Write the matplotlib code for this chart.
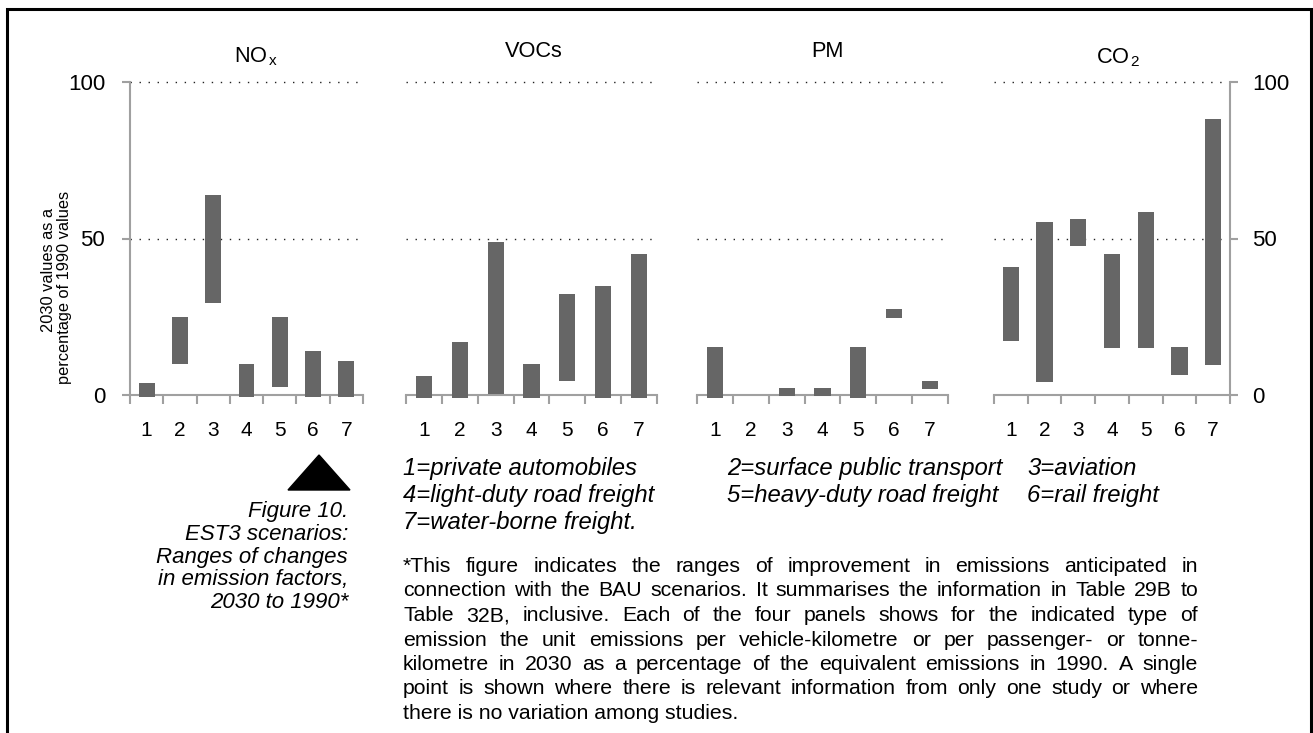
import matplotlib
matplotlib.use("Agg")
import numpy as np
import matplotlib.pyplot as plt
from matplotlib.patches import Polygon, Rectangle

plt.rcParams['font.family'] = ['Liberation Sans', 'DejaVu Sans']
plt.rcParams['mathtext.fontset'] = 'custom'
plt.rcParams['mathtext.rm'] = 'Liberation Sans'
plt.rcParams['mathtext.it'] = 'Liberation Sans:italic'

W, H = 1313, 733

categories = [1, 2, 3, 4, 5, 6, 7]

# ranges: low / high end, 2030 as % of 1990 (nan = no data)
nox_low = [-0.7, 10.0, 29.4, -0.7, 2.4, -0.7, -0.7]
nox_high = [3.8, 24.8, 64.0, 9.9, 24.8, 14.0, 10.8]
voc_low = [-0.8, -0.8, 0.2, -0.8, 4.5, -0.8, -0.8]
voc_high = [6.2, 16.8, 48.9, 10.0, 32.2, 34.8, 45.0]
pm_low = [-0.8, np.nan, -0.3, -0.3, -0.8, 24.7, 1.8]
pm_high = [15.2, np.nan, 2.3, 2.3, 15.2, 27.4, 4.5]
co2_low = [17.4, 4.3, 47.6, 15.1, 15.1, 6.5, 9.7]
co2_high = [40.9, 55.3, 56.3, 45.1, 58.5, 15.3, 88.3]

panel_titles = [r'$\mathrm{NO}_{\,\mathrm{x}}$', 'VOCs', 'PM', r'$\mathrm{CO}_{\,\mathrm{2}}$']
ylabel_lines = ['2030 values as a', 'percentage of 1990 values']

legend_rows = [
    ['1=private automobiles', '2=surface public transport', '3=aviation'],
    ['4=light-duty road freight', '5=heavy-duty road freight', '6=rail freight'],
    ['7=water-borne freight.', '', ''],
]
caption_lines = ['Figure 10.', 'EST3 scenarios:', 'Ranges of changes',
                 'in emission factors,', '2030 to 1990*']
note_lines = [
    '*This figure indicates the ranges of improvement in emissions anticipated in',
    'connection with the BAU scenarios. It summarises the information in Table 29B to',
    'Table 32B, inclusive. Each of the four panels shows for the indicated type of',
    'emission the unit emissions per vehicle-kilometre or per passenger- or tonne-',
    'kilometre in 2030 as a percentage of the equivalent emissions in 1990. A single',
    'point is shown where there is relevant information from only one study or where',
    'there is no variation among studies.',
]


def fx(px):
    return px / W


def fy(py):
    return 1 - py / H


grey = '#a0a0a0'
barc = '#666666'

fig = plt.figure(figsize=(W / 100, H / 100), dpi=100)

# outer frame (bottom edge runs off the page)
fig.add_artist(Rectangle((fx(6.5), fy(745)), fx(1311) - fx(6.5), fy(9) - fy(745),
                         transform=fig.transFigure, fill=False, ec='black', lw=2.2,
                         clip_on=False))

top_px, zero_px = 82, 395
ppu = (zero_px - top_px) / 100.0
ymin = -2
bot_px = zero_px - ymin * ppu

panels = [
    (130, 363, nox_low, nox_high, 'left', 0.48),
    (406, 657, voc_low, voc_high, None, 0.45),
    (697, 948, pm_low, pm_high, None, 0.45),
    (994, 1230, co2_low, co2_high, 'right', 0.48),
]

axes = []
for x0, x1, lo, hi, side, bw in panels:
    ax = fig.add_axes([fx(x0), fy(bot_px), (x1 - x0) / W, (bot_px - top_px) / H])
    ax.patch.set_visible(False)
    ax.set_xlim(0.5, 7.5)
    ax.set_ylim(ymin, 100)
    lo = np.array(lo, dtype=float)
    hi = np.array(hi, dtype=float)
    ok = ~np.isnan(lo)
    ax.bar(np.array(categories)[ok], (hi - lo)[ok], bottom=lo[ok], width=bw,
           color=barc, lw=0, zorder=3)
    for s in ['top', 'left', 'right']:
        ax.spines[s].set_visible(False)
    ax.spines['bottom'].set_position(('data', 0))
    ax.spines['bottom'].set_color(grey)
    ax.spines['bottom'].set_linewidth(1.5)
    ax.set_xticks(np.arange(0.5, 8, 1))
    ax.set_xticklabels([])
    ax.set_xticks(categories, minor=True)
    ax.set_xticklabels([str(c) for c in categories], minor=True, fontsize=15)
    ax.tick_params(axis='x', which='major', direction='out', length=6.5, width=1.5, color=grey)
    ax.tick_params(axis='x', which='minor', length=0, pad=19)
    for yv in (50, 100):
        ax.axhline(yv, color='#222222', lw=1.0, ls=(0, (1, 5.5)), clip_on=False, zorder=1)
    if side is None:
        ax.set_yticks([])
    else:
        ax.spines[side].set_visible(True)
        ax.spines[side].set_color(grey)
        ax.spines[side].set_linewidth(1.5)
        ax.spines[side].set_bounds(0, 100)
        ax.set_yticks([0, 50, 100])
        if side == 'right':
            ax.yaxis.tick_right()
            ax.tick_params(axis='y', length=5.8, width=1.5, color=grey, pad=10, labelsize=16)
        else:
            ax.tick_params(axis='y', length=5.8, width=1.5, color=grey, pad=12, labelsize=16)
    axes.append(ax)

# panel titles
title_pos = [(256, 62), (534, 57), (827, 57), (1118, 63)]
for t, (px, py) in zip(panel_titles, title_pos):
    fig.text(fx(px), fy(py), t, fontsize=15.7, ha='center', va='baseline')

# y label (two rotated lines)
fig.text(fx(53), fy(270), ylabel_lines[0], fontsize=11.8, rotation=90,
         rotation_mode='anchor', ha='center', va='baseline')
fig.text(fx(69), fy(287), ylabel_lines[1], fontsize=11.8, rotation=90,
         rotation_mode='anchor', ha='center', va='baseline')

# triangle marker
fig.add_artist(Polygon([(fx(288), fy(490)), (fx(350), fy(490)), (fx(319), fy(455))],
                       closed=True, transform=fig.transFigure, fc='black', ec='black'))

# caption
for i, line in enumerate(caption_lines):
    fig.text(fx(348), fy(517 + i * 22.75), line, fontsize=16, style='italic',
             ha='right', va='baseline')

# legend of categories
col_x = [403, 727, 1027]
for r, row in enumerate(legend_rows):
    for c, item in enumerate(row):
        if item:
            fig.text(fx(col_x[c]), fy(475 + r * 27), item, fontsize=17.2,
                     style='italic', ha='left', va='baseline')

# justified note
renderer = fig.canvas.get_renderer()
left, right = 403, 1198
for i, line in enumerate(note_lines):
    yb = fy(572 + i * 24.5)
    if i == len(note_lines) - 1:
        fig.text(fx(left), yb, line, fontsize=15.3, ha='left', va='baseline')
        continue
    words = line.split(' ')
    texts = [fig.text(0, yb, w, fontsize=15.3, ha='left', va='baseline') for w in words]
    widths = [t.get_window_extent(renderer).width for t in texts]
    gap = (right - left - sum(widths)) / (len(words) - 1)
    xpos = left
    for t, w in zip(texts, widths):
        t.set_x(fx(xpos))
        xpos += w + gap

fig.savefig('out.png', dpi=100)
